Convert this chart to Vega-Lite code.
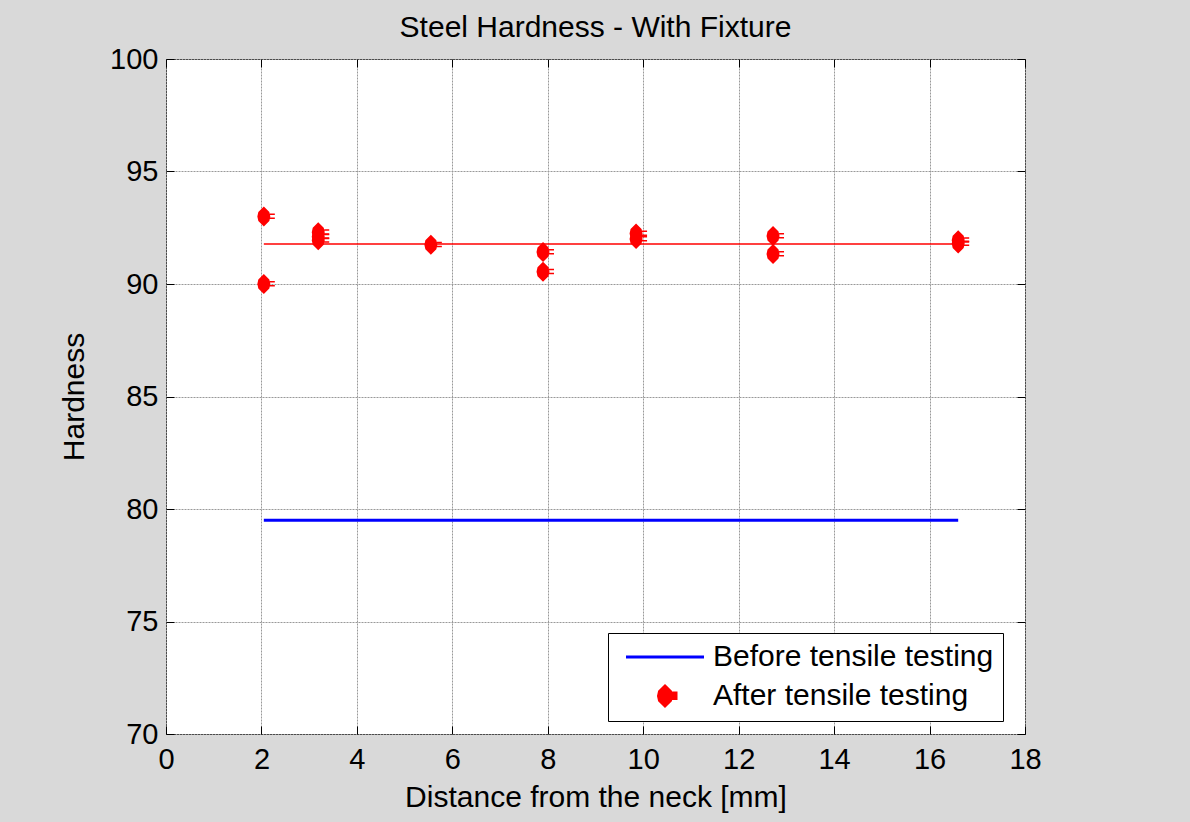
{
  "$schema": "https://vega.github.io/schema/vega-lite/v6.json",
  "autosize": "none",
  "width": 859,
  "height": 675,
  "padding": {"left": 166, "top": 59, "right": 165, "bottom": 88},
  "background": "#d9d9d9",
  "config": {
    "view": {"fill": "white", "stroke": "black", "strokeWidth": 1},
    "font": "Liberation Sans",
    "axis": {
      "labelFont": "Liberation Sans", "titleFont": "Liberation Sans",
      "labelFontSize": 29, "titleFontSize": 30, "labelColor": "black", "titleColor": "black",
      "titleFontWeight": "normal", "domain": false, "tickColor": "black", "tickSize": -8, "labelFlush": false
    }
  },
  "title": {"text": "Steel Hardness - With Fixture", "fontSize": 30, "fontWeight": "normal", "font": "Liberation Sans", "color": "black", "offset": 2},
  "datasets": {
    "lines": [
      {"distance": 2.05, "hardness": 79.5, "series": "Before tensile testing"},
      {"distance": 16.6, "hardness": 79.5, "series": "Before tensile testing"}
    ],
    "mean": [
      {"distance": 2.05, "hardness": 91.78},
      {"distance": 16.6, "hardness": 91.78}
    ],
    "points": [
      {"distance": 2.05, "hardness": 93.0, "series": "After tensile testing"},
      {"distance": 2.05, "hardness": 90.0, "series": "After tensile testing"},
      {"distance": 3.19, "hardness": 92.3, "series": "After tensile testing"},
      {"distance": 3.19, "hardness": 92.1, "series": "After tensile testing"},
      {"distance": 3.19, "hardness": 91.95, "series": "After tensile testing"},
      {"distance": 5.55, "hardness": 91.75, "series": "After tensile testing"},
      {"distance": 7.9, "hardness": 91.42, "series": "After tensile testing"},
      {"distance": 7.9, "hardness": 90.55, "series": "After tensile testing"},
      {"distance": 9.85, "hardness": 92.25, "series": "After tensile testing"},
      {"distance": 9.85, "hardness": 92.0, "series": "After tensile testing"},
      {"distance": 12.72, "hardness": 92.13, "series": "After tensile testing"},
      {"distance": 12.72, "hardness": 91.33, "series": "After tensile testing"},
      {"distance": 16.6, "hardness": 91.95, "series": "After tensile testing"},
      {"distance": 16.6, "hardness": 91.8, "series": "After tensile testing"}
    ]
  },
  "resolve": {"axis": {"x": "independent", "y": "independent"}},
  "layer": [
    {
      "data": {"name": "lines"},
      "mark": {"type": "line", "strokeWidth": 3},
      "encoding": {
        "x": {"field": "distance", "type": "quantitative", "scale": {"domain": [0, 18], "nice": false},
              "axis": {"title": "Distance from the neck [mm]", "values": [0,2,4,6,8,10,12,14,16,18], "grid": true, "gridColor": "#999", "gridDash": [2, 1], "gridOpacity": 1, "labelPadding": 19, "titlePadding": 8}},
        "y": {"field": "hardness", "type": "quantitative", "scale": {"domain": [70, 100], "nice": false, "zero": false},
              "axis": {"title": "Hardness", "values": [70,75,80,85,90,95,100], "grid": true, "gridColor": "#999", "gridDash": [2, 1], "gridOpacity": 1, "labelPadding": 16, "titlePadding": 20}},
        "color": {"field": "series", "type": "nominal",
                  "scale": {"domain": ["Before tensile testing", "After tensile testing"], "range": ["#0000ff", "#ff0000"]},
                  "legend": {
                    "title": null, "orient": "none", "legendX": 442, "legendY": 574,
                    "fillColor": "white", "strokeColor": "black", "padding": 9,
                    "labelFontSize": 30, "labelFont": "Liberation Sans", "labelColor": "black",
                    "symbolSize": 400, "rowPadding": 8, "labelLimit": 400,
                    "encode": {
                      "symbols": {"update": {
                        "shape": {"signal": "datum.value === 'Before tensile testing' ? 'stroke' : 'M0,-1L0.55,-0.45L0.65,0L0.55,0.45L0,1L-0.55,0.45L-0.65,0L-0.55,-0.45Z M0.6,-0.3H1.1V-0.15H0.6Z M0.6,0.1H1.1V0.25H0.6Z'"},
                        "size": {"signal": "datum.value === 'Before tensile testing' ? 6084 : 400"},
                        "fill": {"signal": "datum.value === 'Before tensile testing' ? 'transparent' : '#ff0000'"},
                        "stroke": {"signal": "datum.value === 'Before tensile testing' ? '#0000ff' : 'transparent'"},
                        "strokeWidth": {"value": 3},
                        "x": {"value": 48}
                      }},
                      "labels": {"update": {"x": {"value": 96}}}
                    }
                  }}
      }
    },
    {
      "data": {"name": "mean"},
      "mark": {"type": "line", "strokeWidth": 1.5, "color": "#ff0000"},
      "encoding": {
        "x": {"field": "distance", "type": "quantitative", "axis": {"orient": "top", "labels": false, "title": null, "grid": false, "values": [0,2,4,6,8,10,12,14,16,18]}},
        "y": {"field": "hardness", "type": "quantitative", "axis": {"orient": "right", "labels": false, "title": null, "grid": false, "values": [70,75,80,85,90,95,100]}}
      }
    },
    {
      "data": {"name": "points"},
      "mark": {"type": "point", "filled": true, "opacity": 1, "size": 400,
               "shape": "M0,-1L0.55,-0.45L0.65,0L0.55,0.45L0,1L-0.55,0.45L-0.65,0L-0.55,-0.45Z M0.6,-0.3H1.1V-0.15H0.6Z M0.6,0.1H1.1V0.25H0.6Z"},
      "encoding": {
        "x": {"field": "distance", "type": "quantitative", "axis": null},
        "y": {"field": "hardness", "type": "quantitative", "axis": null},
        "color": {"field": "series", "type": "nominal", "legend": null}
      }
    }
  ]
}
